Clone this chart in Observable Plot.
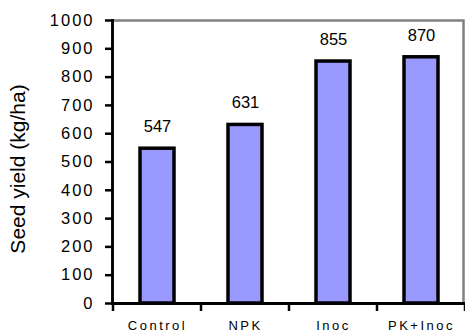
<!DOCTYPE html>
<html>
<head>
<meta charset="utf-8">
<script src="https://cdn.jsdelivr.net/npm/d3@7"></script>
<script src="https://cdn.jsdelivr.net/npm/@observablehq/plot@0.6"></script>
<style>
  body { margin: 0; background: #fff; }
  g[aria-label="y-axis tick label"] text { letter-spacing: 2px; }
  g[aria-label="x-axis tick label"] text { letter-spacing: 2.5px; }
  g[aria-label="value label"] text { letter-spacing: 1.5px; }
</style>
</head>
<body>
<div id="chart"></div>
<script>
// Seed yield per treatment
const treatments = ["Control", "NPK", "Inoc", "PK+Inoc"];
const seedYield = [547, 631, 855, 870];
const yTicks = [0, 100, 200, 300, 400, 500, 600, 700, 800, 900, 1000];
const yTitle = "Seed yield (kg/ha)";

const rows = treatments.map((t, i) => ({treatment: t, yield: seedYield[i]}));

const chart = Plot.plot({
  width: 465,
  height: 333,
  marginLeft: 112,
  marginRight: 0,
  marginTop: 20,
  marginBottom: 30,
  style: {fontFamily: "Arial, 'Liberation Sans', sans-serif", background: "#fff", color: "#000"},
  x: {domain: treatments, padding: 0, axis: null},
  y: {domain: [0, 1000], axis: null},
  marks: [
    Plot.frame({stroke: "#808080", strokeWidth: 2.5, insetRight: 2}),
    Plot.barY(rows, {
      x: "treatment", y: "yield",
      fill: "#9999ff", stroke: "#000", strokeWidth: 3.5,
      insetLeft: 27, insetRight: 27
    }),
    Plot.text(rows, {ariaLabel: "value label", x: "treatment", y: "yield", text: d => String(d.yield), dy: -22, fontSize: 16.5}),
    Plot.axisY({ticks: yTicks, tickFormat: d => String(d), tickSize: 7, tickPadding: 11, strokeWidth: 2.5, fontSize: 16.5, label: null}),
    Plot.axisX({tickSize: 0, tickPadding: 17, fontSize: 13, label: null}),
    Plot.frame({anchor: "left", strokeWidth: 2.8}),
    Plot.ruleY([0], {strokeWidth: 2.8}),
    Plot.text([yTitle], {ariaLabel: "y title", text: d => d, frameAnchor: "left", textAnchor: "middle", rotate: -90, dx: -94, dy: 7, fontSize: 21})
  ]
});

// Category separator ticks on the bottom axis, at the band boundaries
const xs = chart.scale("x");
const y0 = chart.scale("y").apply(0);
const bounds = treatments.map(t => xs.apply(t)).concat([xs.apply(treatments[treatments.length - 1]) + xs.bandwidth]);
d3.select(chart).append("g")
  .attr("aria-label", "category ticks")
  .selectAll("line")
  .data(bounds)
  .join("line")
  .attr("x1", d => d).attr("x2", d => d)
  .attr("y1", y0).attr("y2", y0 + 8)
  .attr("stroke", "#000").attr("stroke-width", 2.5);

document.getElementById("chart").append(chart);
</script>
</body>
</html>
